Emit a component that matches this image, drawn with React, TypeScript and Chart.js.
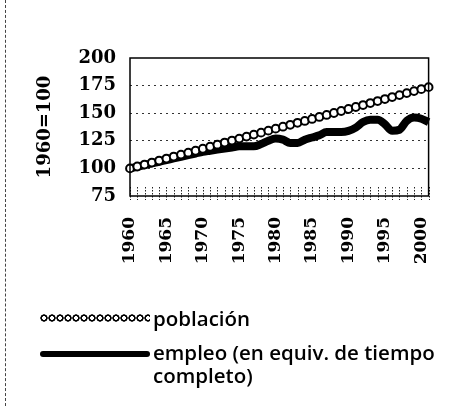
import React, { useEffect, useRef } from "react";
import { Chart, registerables } from "chart.js";

Chart.register(...registerables);

const years: string[] = [
  "1960","1961","1962","1963","1964","1965","1966","1967","1968","1969",
  "1970","1971","1972","1973","1974","1975","1976","1977","1978","1979",
  "1980","1981","1982","1983","1984","1985","1986","1987","1988","1989",
  "1990","1991","1992","1993","1994","1995","1996","1997","1998","1999",
  "2000","2001",
];

const poblacion: number[] = [
  100, 101.7, 103.5, 105.3, 107.1, 108.9, 110.7, 112.5, 114.2, 116.0,
  117.8, 119.6, 121.5, 123.4, 125.2, 127.0, 128.8, 130.6, 132.4, 134.2,
  136.0, 137.8, 139.5, 141.3, 143.0, 144.8, 146.6, 148.4, 150.2, 152.0,
  153.8, 155.6, 157.4, 159.2, 161.0, 162.8, 164.6, 166.4, 168.2, 170.0,
  171.8, 173.6,
];

const empleo: number[] = [
  100, 101.5, 103, 104.5, 106, 107.5, 109, 110.5, 112, 113.5,
  115, 116, 117, 118, 119, 120, 120, 120, 122, 125,
  127, 126, 123, 123, 126, 128, 130, 133, 133, 133,
  134, 137, 142, 144, 144, 140, 134, 135, 143, 146,
  145, 142,
];

const yTicks: number[] = [75, 100, 125, 150, 175, 200];

const legendLabels: string[] = ["población", "empleo (en equiv. de tiempo completo)"];

const CHART_TOP = 58;
const CHART_LEFT = 130;
const CHART_RIGHT_PAD = 27;
const CHART_BOTTOM = 196;
const H = 406;
const W = 470;

const framePlugin = {
  id: "frame",
  afterDatasetsDraw(chart: any) {
    const { ctx, chartArea } = chart;
    const xs = chart.scales.x;
    ctx.save();
    ctx.strokeStyle = "#222";
    ctx.lineWidth = 1;
    ctx.setLineDash([1.5, 1.5]);
    for (let i = 0; i < years.length; i++) {
      const x = Math.round(xs.getPixelForValue(i)) + 0.5;
      ctx.beginPath();
      ctx.moveTo(x, chartArea.bottom - 9);
      ctx.lineTo(x, chartArea.bottom + 4);
      ctx.stroke();
    }
    ctx.setLineDash([]);
    ctx.strokeStyle = "#000";
    ctx.lineWidth = 1.5;
    ctx.strokeRect(
      chartArea.left,
      chartArea.top,
      chartArea.right - chartArea.left,
      chartArea.bottom - chartArea.top
    );
    ctx.restore();
  },
};

function ChartView() {
  const ref = useRef<HTMLCanvasElement | null>(null);
  useEffect(() => {
    if (!ref.current) return;
    const chart = new Chart(ref.current, {
      type: "line",
      data: {
        labels: years,
        datasets: [
          {
            label: legendLabels[0],
            data: poblacion,
            borderColor: "#000",
            borderWidth: 2,
            pointRadius: 3.9,
            pointBorderWidth: 2,
            pointBackgroundColor: "#fff",
            pointBorderColor: "#000",
            pointStyle: "circle",
            tension: 0,
            order: 0,
          },
          {
            label: legendLabels[1],
            data: empleo,
            borderColor: "#000",
            borderWidth: 8,
            pointRadius: 0,
            tension: 0.4,
            cubicInterpolationMode: "monotone",
            order: 1,
          },
        ],
      },
      options: {
        animation: false,
        responsive: false,
        maintainAspectRatio: false,
        layout: { padding: { left: 0, top: CHART_TOP, right: CHART_RIGHT_PAD, bottom: 0 } },
        plugins: { legend: { display: false }, tooltip: { enabled: false } },
        scales: {
          x: {
            type: "category",
            offset: false,
            border: { display: false },
            grid: { display: true, drawOnChartArea: false, drawTicks: false },
            ticks: {
              autoSkip: false,
              minRotation: 90,
              maxRotation: 90,
              padding: 21,
              color: "#000",
              font: { family: "DejaVu Serif", size: 17, weight: "bold" },
              callback: (_v: any, i: number) =>
                Number(years[i]) % 5 === 0 ? years[i] : "",
            },
            afterFit: (s: any) => {
              s.height = H - CHART_BOTTOM;
            },
          },
          y: {
            min: 75,
            max: 200,
            afterBuildTicks: (s: any) => {
              s.ticks = yTicks.map((v) => ({ value: v }));
            },
            border: { display: false, dash: [2, 4] },
            grid: {
              color: (c: any) =>
                c.tick && (c.tick.value === 75 || c.tick.value === 200)
                  ? "rgba(0,0,0,0)"
                  : "#333",
              lineWidth: 1,
              drawTicks: false,
            },
            ticks: {
              padding: 14,
              color: "#000",
              font: { family: "DejaVu Serif", size: 18, weight: "bold" },
            },
            title: {
              display: true,
              text: "1960=100",
              color: "#000",
              font: { family: "DejaVu Serif", size: 18, weight: "bold" },
              padding: { top: 35, bottom: 0 },
            },
            afterFit: (s: any) => {
              s.width = CHART_LEFT;
            },
          },
        },
      },
      plugins: [framePlugin],
    } as any);
    return () => chart.destroy();
  }, []);
  return <canvas ref={ref} width={W} height={H} style={{ position: "absolute", left: 0, top: 0 }} />;
}

export default function App() {
  const legendFont = "'Open Sans', 'Noto Sans', sans-serif";
  return (
    <div
      style={{
        position: "fixed",
        left: 0,
        top: 0,
        width: W,
        height: H,
        background: "#fff",
        overflow: "hidden",
      }}
    >
      <div
        style={{
          position: "absolute",
          left: 5,
          top: 0,
          width: 0,
          height: H,
          borderLeft: "1.5px dashed #444",
        }}
      />
      <ChartView />
      <div
        style={{
          position: "absolute",
          left: 40,
          top: 304,
          display: "flex",
          alignItems: "center",
          fontFamily: legendFont,
          fontSize: 20.5,
          fontWeight: 600,
          color: "#000",
        }}
      >
        <span
          style={{
            display: "inline-block",
            width: 110,
            height: 8,
            marginRight: 3,
            backgroundImage:
              "radial-gradient(circle, #fff 0px, #fff 1.6px, #000 2.2px, #000 3.4px, transparent 3.9px)",
            backgroundSize: "8px 8px",
            backgroundRepeat: "repeat-x",
          }}
        />
        <span>{legendLabels[0]}</span>
      </div>
      <div
        style={{
          position: "absolute",
          left: 40,
          top: 341,
          display: "flex",
          alignItems: "flex-start",
          fontFamily: legendFont,
          fontSize: 20.5,
          fontWeight: 600,
          lineHeight: "23px",
          color: "#000",
        }}
      >
        <span
          style={{
            display: "inline-block",
            width: 110,
            height: 6,
            marginTop: 10,
            marginRight: 3,
            background: "#000",
            borderRadius: 3,
          }}
        />
        <span style={{ width: 305 }}>{legendLabels[1]}</span>
      </div>
    </div>
  );
}
